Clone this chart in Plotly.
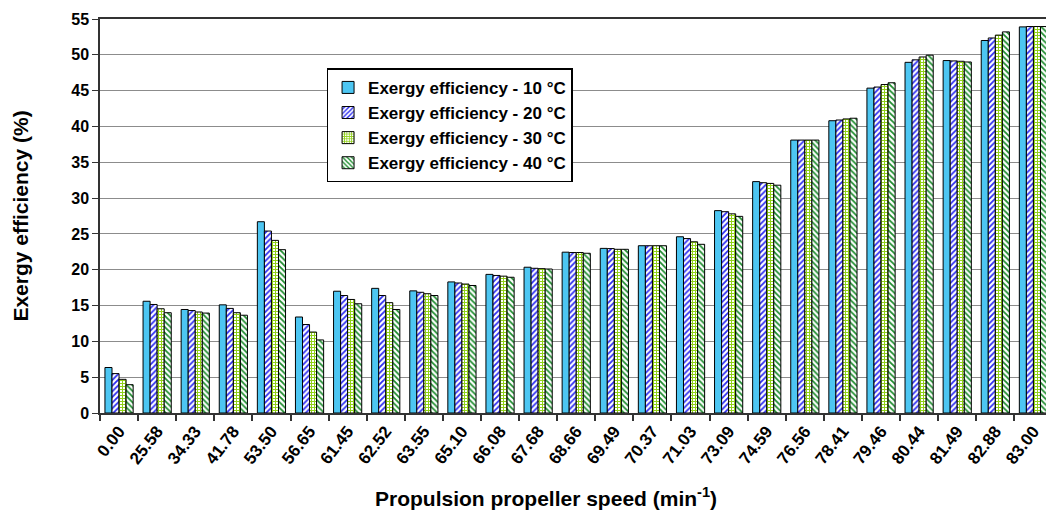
import plotly.graph_objects as go

categories = ["0.00", "25.58", "34.33", "41.78", "53.50", "56.65", "61.45", "62.52", "63.55",
              "65.10", "66.08", "67.68", "68.66", "69.49", "70.37", "71.03", "73.09", "74.59",
              "76.56", "78.41", "79.46", "80.44", "81.49", "82.88", "83.00"]

eff_10 = [6.35, 15.6, 14.45, 15.1, 26.7, 13.4, 17.0, 17.4, 17.05, 18.3, 19.35, 20.35, 22.45,
          22.98, 23.35, 24.6, 28.25, 32.3, 38.1, 40.8, 45.35, 48.95, 49.2, 52.0, 53.9]
eff_20 = [5.5, 15.15, 14.3, 14.6, 25.4, 12.35, 16.4, 16.4, 16.85, 18.15, 19.2, 20.2, 22.4,
          22.95, 23.35, 24.35, 28.1, 32.15, 38.1, 40.9, 45.5, 49.3, 49.15, 52.35, 53.95]
eff_30 = [4.7, 14.55, 14.1, 14.0, 24.1, 11.3, 15.85, 15.4, 16.65, 18.0, 19.1, 20.15, 22.4,
          22.85, 23.35, 23.9, 27.8, 32.05, 38.1, 41.05, 45.85, 49.7, 49.1, 52.75, 53.95]
eff_40 = [3.95, 14.0, 13.95, 13.65, 22.8, 10.2, 15.25, 14.45, 16.4, 17.8, 18.95, 20.1, 22.3,
          22.85, 23.35, 23.55, 27.45, 31.8, 38.1, 41.15, 46.1, 49.95, 49.0, 53.2, 53.95]

series_names = ["Exergy efficiency - 10 °C", "Exergy efficiency - 20 °C",
                "Exergy efficiency - 30 °C", "Exergy efficiency - 40 °C"]

x_title = "Propulsion propeller speed (min<sup>-1</sup>)"
y_title = "Exergy efficiency (%)"

FONT = "Arial, Liberation Sans, sans-serif"

fig = go.Figure()
styles = [
    dict(color="#4DC6F2", pattern=dict(shape="")),
    dict(color="white", pattern=dict(shape="/", fgcolor="#2B2BF0", bgcolor="white", size=4, solidity=0.45, fillmode="replace")),
    dict(color="white", pattern=dict(shape="+", fgcolor="#8FD016", bgcolor="white", size=3, solidity=0.55, fillmode="replace")),
    dict(color="white", pattern=dict(shape="\\", fgcolor="#1E8C2E", bgcolor="white", size=4, solidity=0.45, fillmode="replace")),
]
for name, vals, st in zip(series_names, [eff_10, eff_20, eff_30, eff_40], styles):
    fig.add_trace(go.Bar(
        x=categories, y=vals, name=name,
        marker=dict(color=st["color"], pattern=st["pattern"],
                    line=dict(color="black", width=1)),
    ))

fig.update_layout(
    width=1046, height=510,
    margin=dict(l=100, r=0, t=19, b=97),
    paper_bgcolor="white", plot_bgcolor="white",
    barmode="group", bargap=0.26, bargroupgap=0,
    font=dict(family=FONT, color="black", weight="bold"),
    legend=dict(
        x=0.3695, y=0.730, xanchor="center", yanchor="middle",
        bgcolor="white", bordercolor="black", borderwidth=1.5,
        font=dict(size=17, family=FONT, weight="bold"),
        tracegroupgap=0,
    ),
    xaxis=dict(
        type="category", range=[-0.5, 24.33],
        showline=True, linecolor="#333", linewidth=1.5, mirror=True,
        ticks="outside", ticklen=6, tickcolor="#333", tickwidth=1.5,
        tickson="boundaries", showgrid=False,
        tickangle=-52, tickfont=dict(size=17, family=FONT, weight="bold"),
    ),
    yaxis=dict(
        range=[0, 55], dtick=5,
        showline=True, linecolor="#333", linewidth=1.5,
        ticks="outside", ticklen=6, tickcolor="#333",
        showgrid=True, gridcolor="#8c8c8c", gridwidth=1,
        tickfont=dict(size=16, family=FONT, weight="bold"),
        title=dict(text=y_title,
                   font=dict(size=21, family=FONT, weight="bold"), standoff=37),
        zeroline=False,
    ),
    annotations=[dict(
        text=x_title, xref="paper", yref="paper", x=0.4715, y=-0.214,
        xanchor="center", yanchor="middle", showarrow=False,
        font=dict(size=21, family=FONT, weight="bold", color="black"),
    )],
)

fig.write_html("out.html")
